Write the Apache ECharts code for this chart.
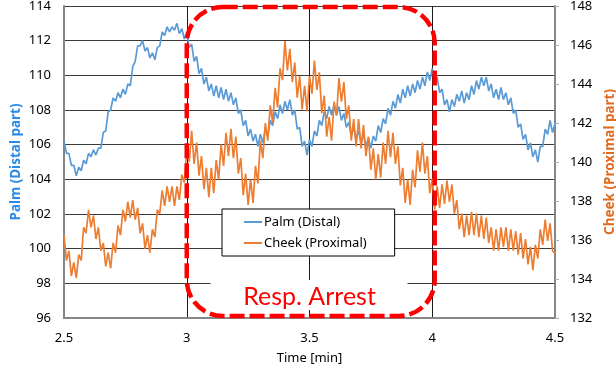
<!DOCTYPE html>
<html>
<head>
<meta charset="utf-8">
<script src="https://cdn.jsdelivr.net/npm/echarts@6/dist/echarts.min.js"></script>
<style>
html,body{margin:0;padding:0;background:#fff;}
#c{width:616px;height:376px;}
</style>
</head>
<body>
<div id="c"></div>
<script>
// Sampling: time axis in minutes, one sample every 0.01 min starting at 2.5
const timeStart = 2.5;
const timeStep = 0.01;
const xTicks = [2.5, 3, 3.5, 4, 4.5];
const leftTicks = [96, 98, 100, 102, 104, 106, 108, 110, 112, 114];
const rightTicks = [132, 134, 136, 138, 140, 142, 144, 146, 148];
const seriesNames = ['Palm (Distal)', 'Cheek (Proximal)'];
const arrestWindow = [3.0, 4.01];

const palm = [
106.2,105.5,105.5,104.8,104.8,104.2,104.7,104.5,105.1,104.9,
105.5,105.3,105.7,105.4,105.8,105.8,106.7,106.8,107.9,108.0,
108.7,108.5,109.0,108.7,109.2,108.9,109.5,109.4,110.5,110.8,
111.7,111.7,112.0,111.4,111.6,111.0,111.3,110.9,111.6,111.7,
112.5,112.3,112.8,112.5,112.8,112.6,113.0,112.4,112.7,112.1,
112.5,111.6,111.8,110.8,111.1,110.1,110.4,109.5,109.9,109.1,
109.5,108.8,109.4,108.7,109.3,108.6,109.2,108.5,109.0,108.3,
108.7,107.8,108.0,107.1,107.4,106.5,106.9,106.2,106.6,105.9,
106.6,106.1,106.9,106.5,107.4,107.1,107.9,107.5,108.3,107.8,
108.5,108.0,108.6,107.7,108.0,106.9,107.0,105.9,106.2,105.4,
106.3,105.9,106.8,106.5,107.4,107.1,107.9,107.5,108.2,107.7,
108.3,107.7,108.2,107.4,107.8,107.0,107.3,106.5,107.0,106.3,
106.8,106.1,106.6,105.9,106.4,105.8,106.5,106.2,107.1,106.7,
107.5,107.2,108.1,107.7,108.5,108.1,108.9,108.4,109.2,108.7,
109.4,108.8,109.5,109.0,109.7,109.2,109.9,109.4,110.2,109.7,
110.4,109.6,109.9,109.0,109.2,108.3,108.6,107.9,108.6,108.2,
108.9,108.5,109.1,108.4,109.0,108.6,109.4,108.9,109.7,109.2,
109.9,109.4,109.9,109.1,109.5,108.7,109.2,108.6,109.3,108.6,
109.0,108.3,108.7,107.8,108.0,107.0,107.2,106.3,106.6,105.7,
106.1,105.3,105.7,105.0,105.9,105.9,106.9,106.6,107.4,106.7,
107.2
];

const cheek = [
136.25,134.95,135.45,134.15,134.85,134.05,135.25,134.95,136.65,136.35,
137.55,136.65,137.25,136.05,136.65,135.45,135.85,134.65,135.35,134.55,
135.85,135.35,136.75,136.25,137.55,136.95,137.95,137.15,138.05,137.05,
137.65,136.35,136.85,135.55,136.25,135.35,136.55,136.15,137.55,137.35,
138.55,137.75,138.75,137.95,138.75,137.75,138.75,138.05,139.35,138.95,
140.6,140.0,141.6,139.9,141.0,139.3,140.3,138.6,139.7,138.2,
139.7,138.4,140.1,139.1,140.9,139.8,141.5,140.3,141.7,140.2,
141.3,139.4,140.2,138.3,139.4,137.8,139.1,137.9,139.8,138.9,
141.1,140.2,142.0,141.1,142.9,142.0,143.8,142.8,144.8,144.2,
146.2,144.7,145.8,144.1,145.1,143.3,144.4,142.7,143.9,142.6,
144.4,143.5,145.2,143.7,144.6,142.5,143.4,141.3,142.3,141.1,
143.1,142.4,144.3,143.1,144.1,142.2,142.9,141.1,142.2,140.8,
142.2,140.7,141.9,140.3,141.3,139.6,140.7,139.1,140.4,139.2,
141.0,139.9,141.6,140.25,141.5,139.9,140.8,138.8,139.7,137.9,
139.1,137.8,139.6,138.7,140.6,139.5,141.0,139.4,140.3,138.4,
139.15,137.55,138.75,137.65,138.85,137.85,139.05,137.95,138.85,137.35,
138.05,136.55,137.35,136.15,137.25,136.25,137.45,136.25,137.35,136.15,
137.25,136.05,137.15,135.85,136.65,135.45,136.55,135.45,136.65,135.65,
136.65,135.45,136.55,135.45,136.45,135.25,136.35,135.05,136.05,134.75,
135.65,134.45,135.75,135.05,136.55,135.75,137.05,135.95,136.85,135.45,
135.3
];

const blueColor = '#5b9bd5';
const orangeColor = '#ed7d31';
const FONT = 'Noto Sans';

function toPairs(vals) {
  return vals.map((v, i) => [+(timeStart + i * timeStep).toFixed(3), v]);
}

const chart = echarts.init(document.getElementById('c'), null, {renderer: 'canvas'});

const option = {
  animation: false,
  backgroundColor: '#ffffff',
  textStyle: {fontFamily: FONT},
  grid: {left: 64, right: 61, top: 6, bottom: 58, containLabel: false, outerBoundsMode: 'none'},
  xAxis: {
    type: 'value',
    min: xTicks[0], max: xTicks[xTicks.length - 1], interval: 0.5,
    name: 'Time [min]', nameLocation: 'middle', nameGap: 34,
    nameTextStyle: {fontSize: 13, color: '#000', fontFamily: FONT},
    axisLine: {show: true, onZero: false, lineStyle: {color: '#868686', width: 2}},
    axisTick: {show: false},
    axisLabel: {fontSize: 13, color: '#000', margin: 14, fontFamily: FONT,
      formatter: v => String(v)},
    splitLine: {show: true, lineStyle: {color: '#1a1a1a', width: 1}}
  },
  yAxis: [
    {
      type: 'value', min: leftTicks[0], max: leftTicks[leftTicks.length - 1], interval: 2,
      position: 'left',
      name: 'Palm (Distal part)', nameLocation: 'middle', nameGap: 41, nameRotate: 90,
      nameMoveOverlap: false,
      nameTextStyle: {fontSize: 13.5, fontWeight: 'bold', color: '#2b8ae8', fontFamily: FONT},
      axisLine: {show: true, lineStyle: {color: '#868686', width: 2}},
      axisTick: {show: false},
      axisLabel: {fontSize: 13, color: '#000', margin: 13, fontFamily: FONT},
      splitLine: {show: true, lineStyle: {color: '#3a3a3a', width: 1}}
    },
    {
      type: 'value', min: rightTicks[0], max: rightTicks[rightTicks.length - 1], interval: 2,
      position: 'right',
      name: 'Cheek (Proximal part)', nameLocation: 'middle', nameGap: 46, nameRotate: 90,
      nameTextStyle: {fontSize: 13.5, fontWeight: 'bold', color: '#e06b1f', fontFamily: FONT},
      axisLine: {show: true, lineStyle: {color: '#868686', width: 2}},
      axisTick: {show: true, inside: false, length: 4, lineStyle: {color: '#b0b0b0', width: 1}},
      axisLabel: {fontSize: 13, color: '#000', margin: 15, fontFamily: FONT},
      splitLine: {show: false}
    }
  ],
  legend: {
    orient: 'vertical',
    left: 222, top: 209,
    padding: [6, 28, 6, 22],
    backgroundColor: '#ffffff',
    borderColor: '#000000', borderWidth: 1,
    icon: 'rect', itemWidth: 18, itemHeight: 2, itemGap: 7,
    textStyle: {fontSize: 13, color: '#000', fontFamily: FONT, lineHeight: 14, padding: [0, 0, 0, -3]},
    data: seriesNames
  },
  series: [
    {
      name: seriesNames[0], type: 'line', yAxisIndex: 0,
      data: toPairs(palm), showSymbol: false, symbol: 'none',
      lineStyle: {color: blueColor, width: 1.7}, itemStyle: {color: blueColor}, z: 3
    },
    {
      name: seriesNames[1], type: 'line', yAxisIndex: 1,
      data: toPairs(cheek), showSymbol: false, symbol: 'none',
      lineStyle: {color: orangeColor, width: 1.7}, itemStyle: {color: orangeColor}, z: 4
    }
  ]
};
chart.setOption(option);

// Annotation: white text box + dashed rounded rectangle around the arrest window
const p0 = chart.convertToPixel({xAxisIndex: 0, yAxisIndex: 0}, [arrestWindow[0], leftTicks[leftTicks.length - 1]]);
const p1 = chart.convertToPixel({xAxisIndex: 0, yAxisIndex: 0}, [arrestWindow[1], leftTicks[0]]);
const xL = p0[0], xR = p1[0], yT = p0[1] + 1, yB = p1[1] - 2;
const midX = (chart.convertToPixel({xAxisIndex: 0}, 3.0) + chart.convertToPixel({xAxisIndex: 0}, 4.0)) / 2;

chart.setOption({
  graphic: [
    {
      type: 'rect', z: 50,
      shape: {x: midX - 99, y: yB - 36, width: 197, height: 30},
      style: {fill: '#ffffff', stroke: null}
    },
    {
      type: 'text', z: 52,
      style: {
        text: 'Resp. Arrest', x: midX, y: yB - 19,
        fill: '#ff0000', font: '25px Lato', textAlign: 'center', textVerticalAlign: 'middle'
      }
    },
    {
      type: 'rect', z: 60,
      shape: {x: xL, y: yT, width: xR - xL, height: yB - yT, r: 36},
      style: {fill: 'none', stroke: '#ff0000', lineWidth: 4.5, lineDash: [15, 5]}
    }
  ]
});
</script>
</body>
</html>
